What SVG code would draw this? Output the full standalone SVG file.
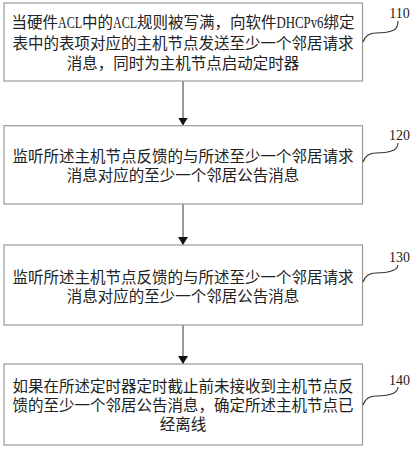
<svg xmlns="http://www.w3.org/2000/svg" width="414" height="450" viewBox="0 0 414 450">
<style>
.box{fill:#fff;stroke:#999;stroke-width:1.2}
.t{font-family:"Liberation Serif","Noto Sans CJK SC",serif;font-size:15.5px;fill:#222;text-anchor:middle}
.lat{font-size:16px}
.lbl{font-family:"Liberation Serif",serif;font-size:14px;fill:#222;text-anchor:middle}
.lead{fill:none;stroke:#333;stroke-width:1.1}
.conn{stroke:#555;stroke-width:1.2;fill:none}
</style>
<defs>
<marker id="ah" viewBox="0 0 8 12" refX="8" refY="6" markerWidth="8" markerHeight="12" markerUnits="userSpaceOnUse" orient="auto">
<path d="M0,1 L8,6 L0,11 Z" fill="#111"/>
</marker>
</defs>
<rect width="414" height="450" fill="#fff"/>
<g id="connectors">
<line class="conn" x1="183" y1="81" x2="183" y2="125.5" marker-end="url(#ah)"/>
<line class="conn" x1="183" y1="204" x2="183" y2="245" marker-end="url(#ah)"/>
<line class="conn" x1="183" y1="325" x2="183" y2="364" marker-end="url(#ah)"/>
</g>
<g id="node110">
<rect class="box" x="4" y="3" width="358.5" height="78"/>
<text class="t" x="183" y="27.6">当硬件<tspan class="lat" textLength="24" lengthAdjust="spacingAndGlyphs">ACL</tspan>中的<tspan class="lat" textLength="24" lengthAdjust="spacingAndGlyphs">ACL</tspan>规则被写满，向软件<tspan class="lat" textLength="47" lengthAdjust="spacingAndGlyphs">DHCPv6</tspan>绑定</text>
<text class="t" x="183" y="49">表中的表项对应的主机节点发送至少一个邻居请求</text>
<text class="t" x="183" y="69.3">消息，同时为主机节点启动定时器</text>
<path class="lead" d="M363,42 C365,36 369,33 376,33 C384,33 390,32 394,30 C397,28 398,25 398,21"/>
<text class="lbl" x="399.5" y="18">110</text>
</g>
<g id="node120">
<rect class="box" x="4" y="125.7" width="358.5" height="78.3"/>
<text class="t" x="183" y="161.7">监听所述主机节点反馈的与所述至少一个邻居请求</text>
<text class="t" x="183" y="181">消息对应的至少一个邻居公告消息</text>
<path class="lead" d="M363,162 C365,156 369,153 376,153 C384,153 390,152 394,150 C397,148 398,146 398,143"/>
<text class="lbl" x="399.5" y="140">120</text>
</g>
<g id="node130">
<rect class="box" x="4" y="245" width="358.5" height="80"/>
<text class="t" x="183" y="282.6">监听所述主机节点反馈的与所述至少一个邻居请求</text>
<text class="t" x="183" y="301.7">消息对应的至少一个邻居公告消息</text>
<path class="lead" d="M363,282 C365,276 369,273 376,273 C384,273 390,272 394,270 C397,268 398,268 398,265"/>
<text class="lbl" x="399.5" y="262">130</text>
</g>
<g id="node140">
<rect class="box" x="4" y="364" width="358.5" height="81"/>
<text class="t" x="183" y="391.9">如果在所述定时器定时截止前未接收到主机节点反</text>
<text class="t" x="183" y="411">馈的至少一个邻居公告消息，确定所述主机节点已</text>
<text class="t" x="183" y="430">经离线</text>
<path class="lead" d="M363,405 C365,399 369,396 376,396 C384,396 390,395 394,393 C397,391 398,390 398,387"/>
<text class="lbl" x="399.5" y="384.5">140</text>
</g>
</svg>
